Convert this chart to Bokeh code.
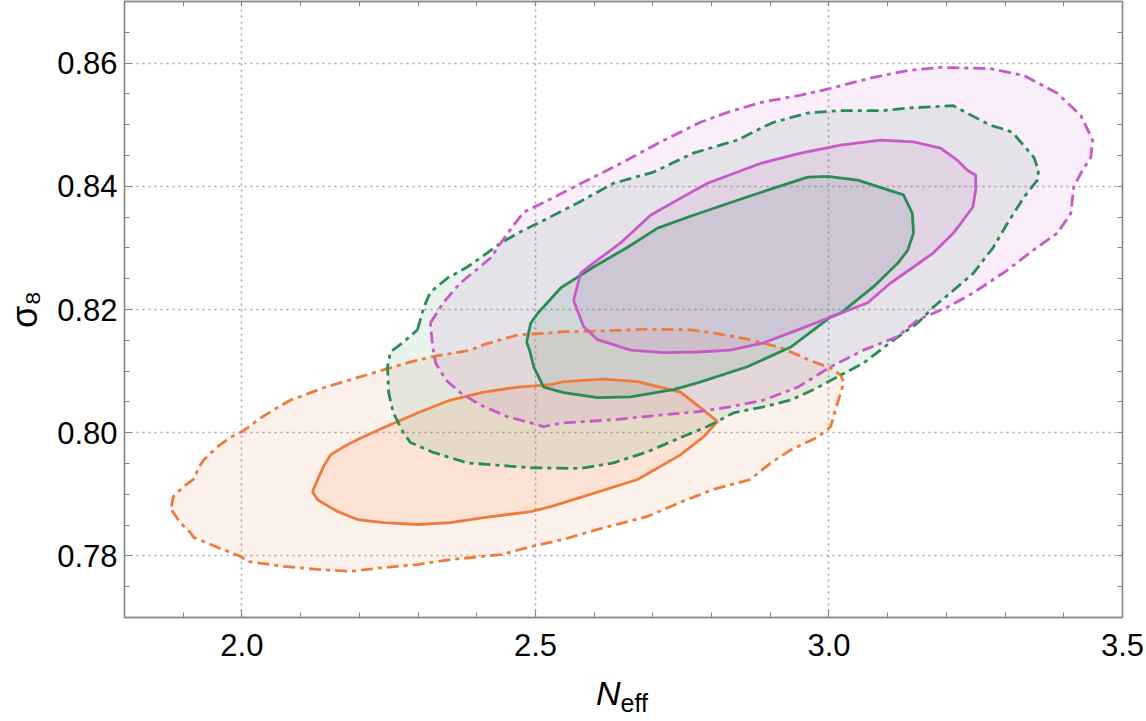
from bokeh.plotting import figure
from bokeh.models import Range1d, LinearAxis, FixedTicker, Div
from bokeh.layouts import column
from bokeh.embed import file_html
from bokeh.resources import INLINE

# ---------------- data (N_eff, sigma_8) ----------------
x_ticks = [2.0, 2.5, 3.0, 3.5]
x_tick_labels = ["2.0", "2.5", "3.0", "3.5"]
x_minor = [1.8, 1.9, 2.0, 2.1, 2.2, 2.3, 2.4, 2.5, 2.6, 2.7, 2.8, 2.9, 3.0, 3.1, 3.2, 3.3, 3.4, 3.5]
y_ticks = [0.78, 0.80, 0.82, 0.84, 0.86]
y_tick_labels = ["0.78", "0.80", "0.82", "0.84", "0.86"]
y_minor = [0.770, 0.775, 0.780, 0.785, 0.790, 0.795, 0.800, 0.805, 0.810, 0.815, 0.820,
           0.825, 0.830, 0.835, 0.840, 0.845, 0.850, 0.855, 0.860, 0.865, 0.870]

orange_95_x = [1.880, 1.883, 1.900, 1.921, 1.924, 1.935, 1.958, 1.981, 2.001, 2.032, 2.054, 2.083,
               2.112, 2.139, 2.185, 2.241, 2.287, 2.333, 2.389, 2.412, 2.470, 2.526, 2.548, 2.606,
               2.691, 2.764, 2.803, 2.861, 2.918, 2.974, 3.003, 3.020, 3.025, 3.020, 3.011, 3.003,
               2.981, 2.935, 2.901, 2.866, 2.803, 2.747, 2.691, 2.606, 2.548, 2.492, 2.441, 2.355,
               2.299, 2.241, 2.185, 2.129, 2.071, 2.010, 1.998, 1.958, 1.918, 1.912, 1.895, 1.882]
orange_95_y = [0.7880, 0.7896, 0.7912, 0.7927, 0.7940, 0.7956, 0.7977, 0.7993, 0.8002, 0.8024, 0.8037, 0.8053,
               0.8063, 0.8073, 0.8086, 0.8102, 0.8115, 0.8125, 0.8134, 0.8143, 0.8159, 0.8162, 0.8164, 0.8165,
               0.8168, 0.8167, 0.8162, 0.8152, 0.8138, 0.8115, 0.8105, 0.8094, 0.8081, 0.8065, 0.8037, 0.8010,
               0.7993, 0.7972, 0.7951, 0.7924, 0.7908, 0.7887, 0.7864, 0.7843, 0.7827, 0.7815, 0.7802, 0.7794,
               0.7786, 0.7781, 0.7775, 0.7778, 0.7783, 0.7791, 0.7799, 0.7814, 0.7830, 0.7838, 0.7854, 0.7872]

orange_68_x = [2.120, 2.129, 2.139, 2.151, 2.173, 2.197, 2.241, 2.299, 2.355, 2.412, 2.470, 2.526,
               2.548, 2.616, 2.674, 2.747, 2.786, 2.810, 2.786, 2.747, 2.674, 2.577, 2.526, 2.492,
               2.412, 2.355, 2.299, 2.241, 2.197, 2.163, 2.129]
orange_68_y = [0.7904, 0.7924, 0.7945, 0.7964, 0.7977, 0.7989, 0.8008, 0.8032, 0.8053, 0.8066, 0.8074, 0.8078,
               0.8083, 0.8087, 0.8083, 0.8066, 0.8037, 0.8018, 0.7993, 0.7964, 0.7924, 0.7895, 0.7880, 0.7872,
               0.7862, 0.7854, 0.7851, 0.7854, 0.7859, 0.7872, 0.7891]

green_95_x = [2.299, 2.310, 2.321, 2.350, 2.384, 2.418, 2.441, 2.470, 2.504, 2.572, 2.633, 2.701,
              2.769, 2.844, 2.883, 2.906, 2.964, 3.020, 3.093, 3.134, 3.212, 3.219, 3.275, 3.304,
              3.314, 3.349, 3.357, 3.355, 3.332, 3.304, 3.280, 3.246, 3.207, 3.178, 3.151, 3.105,
              3.059, 3.015, 2.974, 2.935, 2.889, 2.837, 2.793, 2.747, 2.691, 2.633, 2.577, 2.492,
              2.384, 2.326, 2.287, 2.275, 2.258, 2.250, 2.248, 2.253, 2.275]
green_95_y = [0.8167, 0.8204, 0.8228, 0.8251, 0.8269, 0.8292, 0.8308, 0.8324, 0.8340, 0.8373, 0.8405, 0.8423,
              0.8454, 0.8475, 0.8494, 0.8504, 0.8519, 0.8523, 0.8523, 0.8527, 0.8531, 0.8527, 0.8499, 0.8491,
              0.8486, 0.8447, 0.8426, 0.8410, 0.8382, 0.8340, 0.8301, 0.8259, 0.8227, 0.8204, 0.8178, 0.8147,
              0.8113, 0.8091, 0.8070, 0.8053, 0.8042, 0.8032, 0.8010, 0.7992, 0.7969, 0.7951, 0.7942, 0.7943,
              0.7951, 0.7968, 0.7984, 0.8000, 0.8032, 0.8065, 0.8107, 0.8131, 0.8147]

green_68_x = [2.485, 2.492, 2.504, 2.543, 2.599, 2.657, 2.708, 2.769, 2.849, 2.906, 2.964, 2.998,
              3.049, 3.127, 3.142, 3.144, 3.134, 3.117, 3.076, 3.020, 3.003, 2.935, 2.861, 2.776,
              2.735, 2.662, 2.606, 2.548, 2.514, 2.497, 2.490]
green_68_y = [0.8147, 0.8178, 0.8194, 0.8235, 0.8269, 0.8301, 0.8332, 0.8353, 0.8379, 0.8397, 0.8415, 0.8416,
              0.8410, 0.8386, 0.8356, 0.8324, 0.8296, 0.8275, 0.8237, 0.8194, 0.8188, 0.8139, 0.8107, 0.8081,
              0.8070, 0.8058, 0.8057, 0.8065, 0.8074, 0.8107, 0.8134]

magenta_95_x = [2.321, 2.343, 2.372, 2.395, 2.424, 2.441, 2.463, 2.480, 2.497, 2.531, 2.572, 2.645,
                2.713, 2.781, 2.827, 2.883, 2.952, 3.003, 3.076, 3.134, 3.190, 3.275, 3.332, 3.389,
                3.429, 3.449, 3.446, 3.429, 3.417, 3.412, 3.389, 3.349, 3.304, 3.246, 3.202, 3.151,
                3.117, 3.059, 3.003, 2.947, 2.889, 2.832, 2.776, 2.718, 2.633, 2.548, 2.514, 2.492,
                2.452, 2.406, 2.372, 2.347, 2.330, 2.325]
magenta_95_y = [0.8178, 0.8211, 0.8243, 0.8261, 0.8284, 0.8308, 0.8337, 0.8358, 0.8366, 0.8382, 0.8402, 0.8437,
                0.8472, 0.8504, 0.8520, 0.8536, 0.8548, 0.8559, 0.8577, 0.8588, 0.8593, 0.8591, 0.8580, 0.8551,
                0.8515, 0.8475, 0.8447, 0.8421, 0.8399, 0.8356, 0.8324, 0.8297, 0.8264, 0.8227, 0.8204, 0.8183,
                0.8156, 0.8134, 0.8107, 0.8074, 0.8053, 0.8042, 0.8034, 0.8029, 0.8021, 0.8016, 0.8010, 0.8016,
                0.8026, 0.8045, 0.8065, 0.8086, 0.8113, 0.8139]

magenta_68_x = [2.565, 2.577, 2.594, 2.645, 2.696, 2.742, 2.793, 2.883, 2.952, 3.020, 3.088, 3.144,
                3.190, 3.219, 3.236, 3.250, 3.250, 3.245, 3.212, 3.178, 3.144, 3.105, 3.066, 3.020,
                2.947, 2.889, 2.832, 2.776, 2.718, 2.662, 2.606, 2.582]
magenta_68_y = [0.8215, 0.8259, 0.8272, 0.8308, 0.8353, 0.8378, 0.8405, 0.8437, 0.8454, 0.8467, 0.8475, 0.8472,
                0.8462, 0.8442, 0.8426, 0.8418, 0.8394, 0.8366, 0.8324, 0.8292, 0.8269, 0.8243, 0.8211, 0.8194,
                0.8167, 0.8146, 0.8134, 0.8131, 0.8130, 0.8134, 0.8151, 0.8172]

series = [
    ("#F07A3C", orange_95_x, orange_95_y, orange_68_x, orange_68_y),
    ("#2A8C55", green_95_x, green_95_y, green_68_x, green_68_y),
    ("#C85AC8", magenta_95_x, magenta_95_y, magenta_68_x, magenta_68_y),
]

# ---------------- figure ----------------
FONT = "Liberation Sans"
p = figure(width=1146, height=668, output_backend="svg", toolbar_location=None,
           x_range=Range1d(1.8, 3.5), y_range=Range1d(0.77, 0.87),
           min_border_left=124, min_border_right=24, min_border_top=1, min_border_bottom=51)
p.background_fill_color = "white"
p.border_fill_color = "white"
p.outline_line_color = "#9a9a9a"
p.outline_line_width = 1.5

xt = FixedTicker(ticks=x_ticks, minor_ticks=x_minor)
yt = FixedTicker(ticks=y_ticks, minor_ticks=y_minor)

def style_axis(ax):
    ax.axis_line_color = "#888888"
    ax.axis_line_width = 1.3
    ax.major_tick_line_color = "#888888"
    ax.minor_tick_line_color = "#888888"
    ax.major_tick_in = 8
    ax.major_tick_out = 0
    ax.minor_tick_in = 5
    ax.minor_tick_out = 0
    ax.major_label_text_font = FONT
    ax.major_label_text_font_size = "31px"
    ax.major_label_text_color = "black"

p.xaxis.ticker = xt
p.yaxis.ticker = yt
p.xaxis.major_label_overrides = {t: s for t, s in zip(x_ticks, x_tick_labels)}
p.yaxis.major_label_overrides = {t: s for t, s in zip(y_ticks, y_tick_labels)}
style_axis(p.xaxis[0])
style_axis(p.yaxis[0])
p.xaxis.major_label_standoff = 16
p.yaxis.major_label_standoff = 7

# y axis title: sigma_8
p.yaxis.axis_label = "σ₈"
p.yaxis.axis_label_text_font = FONT
p.yaxis.axis_label_text_font_size = "36px"
p.yaxis.axis_label_text_font_style = "normal"
p.yaxis.axis_label_text_color = "black"
p.yaxis.axis_label_standoff = 9

# frame ticks on top / right (ticks only, no labels)
top = LinearAxis(ticker=FixedTicker(ticks=[], minor_ticks=x_minor))
style_axis(top)
p.add_layout(top, "above")
right = LinearAxis(ticker=FixedTicker(ticks=[], minor_ticks=y_minor))
style_axis(right)
p.add_layout(right, "right")

for g, tk in ((p.xgrid, xt), (p.ygrid, yt)):
    g.ticker = tk
    g.grid_line_color = "#a8a8a8"
    g.grid_line_dash = "2 4"
    g.grid_line_width = 1.6

# fills
for col, ox, oy, ix, iy in series:
    p.patch(ox, oy, fill_color=col, fill_alpha=0.10, line_color=None)
    p.patch(ix, iy, fill_color=col, fill_alpha=0.12, line_color=None)

# outlines
for col, ox, oy, ix, iy in series:
    p.line(ox + ox[:1], oy + oy[:1], line_color=col, line_width=2.8, line_dash="12 5 4 5")
    p.line(ix + ix[:1], iy + iy[:1], line_color=col, line_width=2.8)

# x axis title: N_eff (HTML, below the figure)
xlabel = Div(
    text=('<div style="position:relative;width:1146px;height:53px;'
          'font-family:\'Liberation Sans\',Arial,sans-serif;color:black;">'
          '<div style="position:absolute;left:596px;top:8px;font-size:34px;line-height:34px;white-space:nowrap;">'
          '<i>N</i><span style="font-size:25px;position:relative;top:7px;">eff</span></div></div>'),
    width=1146, height=53, margin=0)

layout = column(p, xlabel, spacing=0)
open("out.html", "w").write(file_html(layout, INLINE))
